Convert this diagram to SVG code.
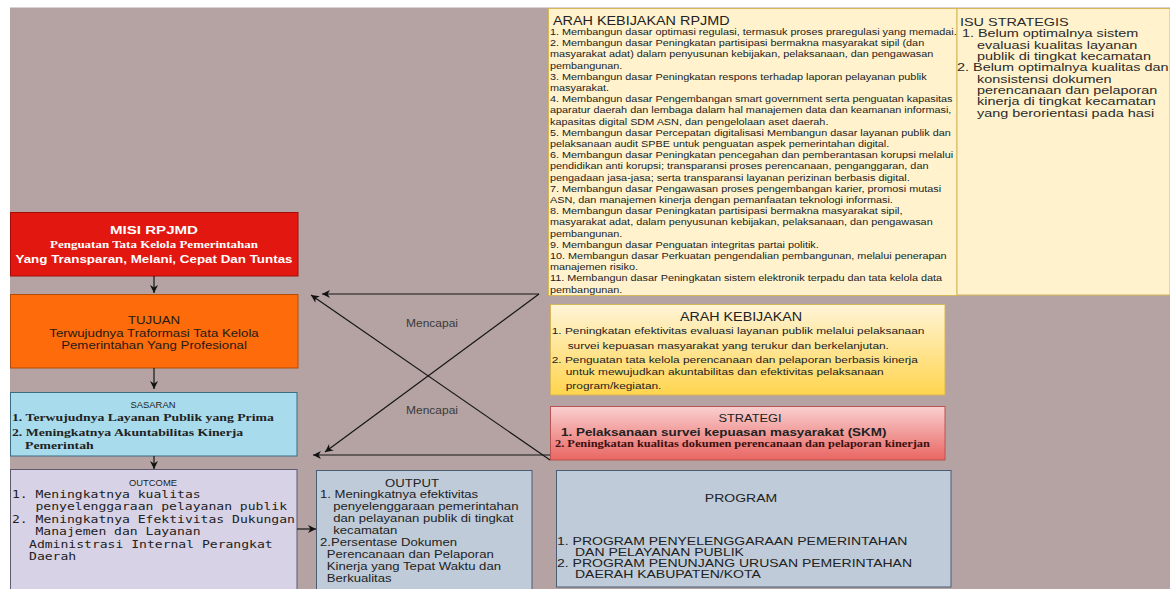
<svg xmlns="http://www.w3.org/2000/svg" width="1170" height="589" viewBox="0 0 1170 589">
<defs>
<style>
.sans{font-family:"Liberation Sans",Arial,sans-serif}
.serif{font-family:"Liberation Serif","Times New Roman",serif;font-weight:bold}
.mono{font-family:"DejaVu Sans Mono",monospace}
.mid{text-anchor:middle}
.b{font-weight:bold}
.dark{fill:#222}
.conn{stroke:#151515;stroke-width:1.2;fill:none}
</style>
<marker id="ah" viewBox="0 0 10 10" refX="10" refY="5" markerWidth="10" markerHeight="8" markerUnits="userSpaceOnUse" orient="auto">
<path d="M0,0 L10,5 L0,10 L3,5 z" fill="#111"/>
</marker>
<linearGradient id="gYel" x1="0" y1="0" x2="0" y2="1">
<stop offset="0" stop-color="#fff4d6"/>
<stop offset="1" stop-color="#ffd54f"/>
</linearGradient>
<linearGradient id="gRed" x1="0" y1="0" x2="0" y2="1">
<stop offset="0" stop-color="#f9d0d0"/>
<stop offset="1" stop-color="#e96662"/>
</linearGradient>
</defs>
<rect x="0" y="0" width="1170" height="589" fill="#ffffff"/>
<rect x="10" y="7.5" width="1160" height="581.5" fill="#b5a3a3"/>

<g id="rpjmd">
<rect x="548.5" y="8.5" width="408.5" height="287" fill="#fff2cc" stroke="#d6b656"/>
<g transform="translate(550,0) scale(1.18,1)" class="sans dark">
<text x="2.5" y="25.5" font-size="12.2">ARAH KEBIJAKAN RPJMD</text>
<text y="35" font-size="9.2">
<tspan x="0">1. Membangun dasar optimasi regulasi, termasuk proses praregulasi yang memadai.</tspan>
<tspan x="0" dy="11.2">2. Membangun dasar Peningkatan partisipasi bermakna masyarakat sipil (dan</tspan>
<tspan x="0" dy="11.2">masyarakat adat) dalam penyusunan kebijakan, pelaksanaan, dan pengawasan</tspan>
<tspan x="0" dy="11.2">pembangunan.</tspan>
<tspan x="0" dy="11.2">3. Membangun dasar Peningkatan respons terhadap laporan pelayanan publik</tspan>
<tspan x="0" dy="11.2">masyarakat.</tspan>
<tspan x="0" dy="11.2">4. Membangun dasar Pengembangan smart government serta penguatan kapasitas</tspan>
<tspan x="0" dy="11.2">aparatur daerah dan lembaga dalam hal manajemen data dan keamanan informasi,</tspan>
<tspan x="0" dy="11.2">kapasitas digital SDM ASN, dan pengelolaan aset daerah.</tspan>
<tspan x="0" dy="11.2">5. Membangun dasar Percepatan digitalisasi Membangun dasar layanan publik dan</tspan>
<tspan x="0" dy="11.2">pelaksanaan audit SPBE untuk penguatan aspek pemerintahan digital.</tspan>
<tspan x="0" dy="11.2">6. Membangun dasar Peningkatan pencegahan dan pemberantasan korupsi melalui</tspan>
<tspan x="0" dy="11.2">pendidikan anti korupsi; transparansi proses perencanaan, penganggaran, dan</tspan>
<tspan x="0" dy="11.2">pengadaan jasa-jasa; serta transparansi layanan perizinan berbasis digital.</tspan>
<tspan x="0" dy="11.2">7. Membangun dasar Pengawasan proses pengembangan karier, promosi mutasi</tspan>
<tspan x="0" dy="11.2">ASN, dan manajemen kinerja dengan pemanfaatan teknologi informasi.</tspan>
<tspan x="0" dy="11.2">8. Membangun dasar Peningkatan partisipasi bermakna masyarakat sipil,</tspan>
<tspan x="0" dy="11.2">masyarakat adat, dalam penyusunan kebijakan, pelaksanaan, dan pengawasan</tspan>
<tspan x="0" dy="11.2">pembangunan.</tspan>
<tspan x="0" dy="11.2">9. Membangun dasar Penguatan integritas partai politik.</tspan>
<tspan x="0" dy="11.2">10. Membangun dasar Perkuatan pengendalian pembangunan, melalui penerapan</tspan>
<tspan x="0" dy="11.2">manajemen risiko.</tspan>
<tspan x="0" dy="11.2">11. Membangun dasar Peningkatan sistem elektronik terpadu dan tata kelola data</tspan>
<tspan x="0" dy="11.2">pembangunan.</tspan>
</text>
</g>
</g>

<g id="isu">
<rect x="957" y="8.5" width="213" height="286.5" fill="#fff2cc" stroke="#d6b656"/>
<g transform="translate(957,0) scale(1.3,1)" class="sans" fill="#2a2a2a" font-size="11.1">
<text x="2.3" y="26.5">ISU STRATEGIS</text>
<text x="3.8" y="37.5">1. Belum optimalnya sistem</text>
<text x="15.4" y="48.8">evaluasi kualitas layanan</text>
<text x="15.4" y="60.1">publik di tingkat kecamatan</text>
<text x="0" y="71.4">2. Belum optimalnya kualitas dan</text>
<text x="15.4" y="82.7">konsistensi dokumen</text>
<text x="15.4" y="94">perencanaan dan pelaporan</text>
<text x="15.4" y="105.3">kinerja di tingkat kecamatan</text>
<text x="15.4" y="116.6">yang berorientasi pada hasi</text>
</g>
</g>

<g id="misi">
<rect x="10.5" y="212.5" width="287.5" height="63.5" fill="#e2170f" stroke="#a50d08"/>
<g transform="translate(154,0) scale(1.3,1)" fill="#ffffff">
<text class="sans b mid" x="0" y="234" font-size="11.6">MISI RPJMD</text>
<text class="serif mid" x="0" y="248" font-size="10">Penguatan Tata Kelola Pemerintahan</text>
<text class="sans b mid" x="0" y="263" font-size="10.3">Yang Transparan, Melani, Cepat Dan Tuntas</text>
</g>
</g>

<g id="tujuan">
<rect x="10.5" y="294.5" width="287.5" height="73.5" fill="#fd6b0b" stroke="#b44c05"/>
<g transform="translate(154,0) scale(1.25,1)" class="sans mid" fill="#241a14" font-size="10.6">
<text x="0" y="324">TUJUAN</text>
<text x="0" y="337">Terwujudnya Traformasi Tata Kelola</text>
<text x="0" y="349.5">Pemerintahan Yang Profesional</text>
</g>
</g>

<g id="sasaran">
<rect x="10.5" y="392.5" width="286.5" height="63.5" fill="#a8dbeb" stroke="#3d6d82"/>
<text class="sans mid" x="153" y="408" fill="#222" font-size="9.4">SASARAN</text>
<g transform="translate(12,0) scale(1.25,1)" class="serif" fill="#222" font-size="11">
<text x="0" y="421">1. Terwujudnya Layanan Publik yang Prima</text>
<text x="0" y="436">2. Meningkatnya Akuntabilitas Kinerja</text>
<text x="10.4" y="449">Pemerintah</text>
</g>
</g>

<g id="outcome">
<rect x="10.5" y="469.5" width="286.5" height="125" fill="#d8d2e6" stroke="#5d5a70"/>
<text class="sans mid" x="153" y="486" fill="#222" font-size="9.4">OUTCOME</text>
<g transform="translate(12,0) scale(1.2,1)" class="mono" fill="#222" font-size="10.9">
<text x="0" y="498">1. Meningkatnya kualitas</text>
<text x="19.6" y="510.5">penyelenggaraan pelayanan publik</text>
<text x="0" y="523">2. Meningkatnya Efektivitas Dukungan</text>
<text x="19.6" y="535.5">Manajemen dan Layanan</text>
<text x="14.2" y="548">Administrasi Internal Perangkat</text>
<text x="14.2" y="560.5">Daerah</text>
</g>
</g>

<g id="output">
<rect x="316.5" y="470.5" width="215.5" height="124" fill="#bfcbd8" stroke="#4b5d75"/>
<g transform="translate(320,0) scale(1.25,1)" class="sans" fill="#222" font-size="10.5">
<text x="73.6" y="487" class="mid">OUTPUT</text>
<text x="0" y="498.5">1. Meningkatnya efektivitas</text>
<text x="10.6" y="510.4">penyelenggaraan pemerintahan</text>
<text x="10.6" y="522.3">dan pelayanan publik di tingkat</text>
<text x="10.6" y="534.2">kecamatan</text>
<text x="0" y="546.1">2.Persentase Dokumen</text>
<text x="5.4" y="558">Perencanaan dan Pelaporan</text>
<text x="5.4" y="569.9">Kinerja yang Tepat Waktu dan</text>
<text x="5.4" y="581.8">Berkualitas</text>
</g>
</g>

<g id="program">
<rect x="556.5" y="470.5" width="394.5" height="116.5" fill="#bfcbd8" stroke="#4b5d75"/>
<g transform="translate(557,0) scale(1.36,1)" class="sans" fill="#222" font-size="10.3">
<text x="135.3" y="502" class="mid">PROGRAM</text>
<text x="0" y="545">1. PROGRAM PENYELENGGARAAN PEMERINTAHAN</text>
<text x="13.2" y="556">DAN PELAYANAN PUBLIK</text>
<text x="0" y="567.5">2. PROGRAM PENUNJANG URUSAN PEMERINTAHAN</text>
<text x="13.2" y="578.5">DAERAH KABUPATEN/KOTA</text>
</g>
</g>

<g id="arah-kebijakan">
<rect x="550.5" y="304.5" width="394.5" height="90.5" fill="url(#gYel)" stroke="#d6b656"/>
<g transform="translate(551.7,0) scale(1.2,1)" class="sans" fill="#222">
<text x="157.8" y="321.5" class="mid" font-size="11.9">ARAH KEBIJAKAN</text>
<text x="0" y="334.5" font-size="9.9">1. Peningkatan efektivitas evaluasi layanan publik melalui pelaksanaan</text>
<text x="13.3" y="349.5" font-size="9.9">survei kepuasan masyarakat yang terukur dan berkelanjutan.</text>
<text x="0" y="363" font-size="9.9">2. Penguatan tata kelola perencanaan dan pelaporan berbasis kinerja</text>
<text x="11.7" y="375.5" font-size="9.9">untuk mewujudkan akuntabilitas dan efektivitas pelaksanaan</text>
<text x="11.7" y="388.8" font-size="9.9">program/kegiatan.</text>
</g>
</g>

<g id="strategi">
<rect x="550.5" y="406.5" width="394.5" height="53.5" fill="url(#gRed)" stroke="#b85450"/>
<g transform="translate(555,0) scale(1.2,1)" fill="#222">
<text x="162.5" y="422" class="sans mid" font-size="10.7">STRATEGI</text>
<text x="5" y="436.5" class="sans b" font-size="11.2">1. Pelaksanaan survei kepuasan masyarakat (SKM)</text>
<text x="0" y="447.5" class="serif" font-size="10.3" fill="#3a1010">2. Peningkatan kualitas dokumen perencanaan dan pelaporan kinerjan</text>
</g>
</g>

<g id="connectors">
<line class="conn" x1="154" y1="276" x2="154" y2="293" marker-end="url(#ah)"/>
<line class="conn" x1="154" y1="368" x2="154" y2="389" marker-end="url(#ah)"/>
<line class="conn" x1="154" y1="456" x2="154" y2="469" marker-end="url(#ah)"/>
<line class="conn" x1="297" y1="529" x2="316" y2="529" marker-end="url(#ah)"/>
<line class="conn" x1="539" y1="294" x2="322" y2="294" marker-end="url(#ah)"/>
<line class="conn" x1="539" y1="294" x2="325" y2="452" marker-end="url(#ah)"/>
<line class="conn" x1="550" y1="460" x2="311" y2="295" marker-end="url(#ah)"/>
<line class="conn" x1="550" y1="455" x2="313" y2="455" stroke="#3a3a3a" stroke-width="1.8" marker-end="url(#ah)"/>
<g transform="translate(432,0) scale(1.2,1)" class="sans mid" fill="#3a3a3a" font-size="10">
<text x="0" y="327.5">Mencapai</text>
<text x="0" y="414">Mencapai</text>
</g>
</g>
</svg>
